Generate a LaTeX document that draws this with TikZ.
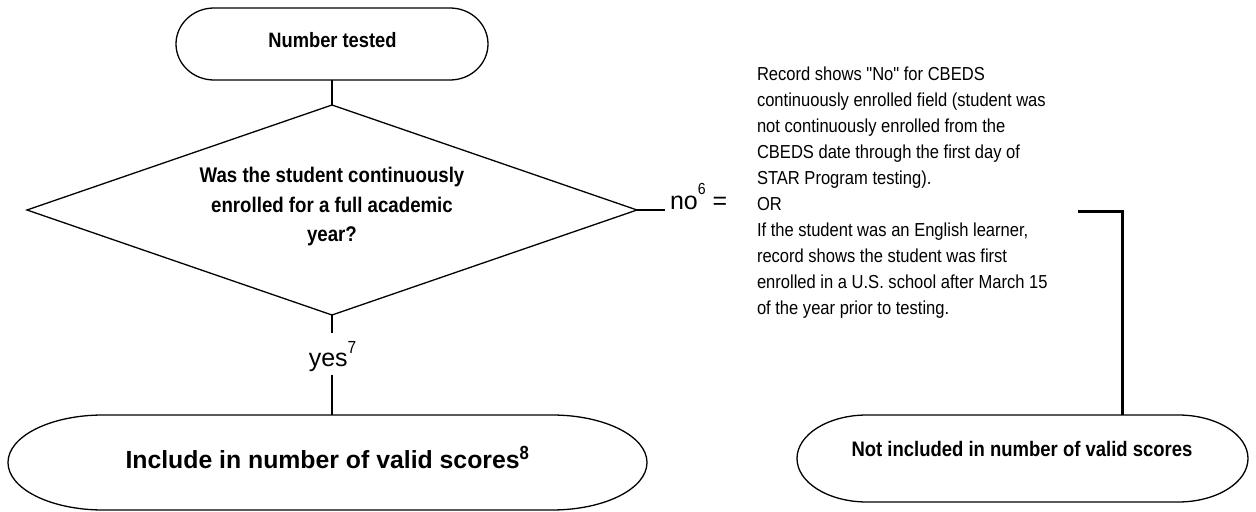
\documentclass[tikz,border=0pt]{standalone}
\usepackage{fontspec}
\setmainfont{Liberation Sans}
\newfontfamily\nfont[FakeStretch=0.88]{Liberation Sans}
\usetikzlibrary{shapes.geometric,calc}
\newcommand\mystadium[3]{%
  \draw[outl] ($(#1.north west)+(#2,0)$) -- ($(#1.north east)+(-#2,0)$)
    arc[start angle=90,end angle=-90,x radius=#2bp,y radius=#3bp]
    -- ($(#1.south west)+(#2,0)$)
    arc[start angle=270,end angle=90,x radius=#2bp,y radius=#3bp] -- cycle;}
\begin{document}
\begin{tikzpicture}[x=1bp,y=-1bp,
  outl/.style={line width=1.3bp},
  conn/.style={line width=2.8bp},
  box/.style={rectangle,draw=none,inner sep=0,outer sep=0},
  lbl/.style={inner sep=0,outer sep=0}]
\useasboundingbox (0,0) rectangle (1256,512);

% shapes
\node[box,minimum width=312bp,minimum height=72bp] (tested) at (332,44) {};
\mystadium{tested}{38}{36}
\node[diamond,draw,outl,minimum width=610bp,minimum height=210bp,inner sep=0,outer sep=0] (dia) at (332,210) {};
\node[box,minimum width=639bp,minimum height=95bp] (incl) at (327.5,462.5) {};
\mystadium{incl}{95}{47.5}
\node[box,minimum width=451bp,minimum height=87bp] (notinc) at (1022.5,458.5) {};
\mystadium{notinc}{70}{43.5}

% texts
\node[lbl,anchor=base,font=\nfont\bfseries\fontsize{20.8bp}{20.8bp}\selectfont] (testedtxt) at (332.5,47.7) {Number tested};
\node[lbl,anchor=north,align=center,font=\nfont\bfseries\fontsize{21.2bp}{29.5bp}\selectfont] (diatxt) at (332,167.3) {Was the student continuously\\enrolled for a full academic\\year?};
\node[lbl,anchor=base west,font=\bfseries\fontsize{24.8bp}{24.8bp}\selectfont] (incltxt) at (125.5,468.3) {Include in number of valid scores\raisebox{9bp}{\nfont\fontsize{19bp}{19bp}\selectfont 8}};
\node[lbl,anchor=base,font=\nfont\bfseries\fontsize{21bp}{21bp}\selectfont] (notinctxt) at (1022,456) {Not included in number of valid scores};
\node[inner xsep=5bp,inner ysep=0,outer sep=0,anchor=base west,font=\fontsize{25bp}{25bp}\selectfont] (no) at (665,209.3) {no\raisebox{14.5bp}{\nfont\fontsize{16bp}{16bp}\selectfont 6} =};
\node[lbl,anchor=base,text height=33.4bp,text depth=8.3bp,font=\fontsize{25bp}{25bp}\selectfont] (yes) at (332.5,366.7) {yes\raisebox{13.5bp}{\nfont\fontsize{17.5bp}{17.5bp}\selectfont 7}};
\node[lbl,anchor=north west,align=left,font=\nfont\fontsize{18.8bp}{26bp}\selectfont] (note) at (757,67) {Record shows "No" for CBEDS\\continuously enrolled field (student was\\not continuously enrolled from the\\CBEDS date through the first day of\\STAR Program testing).\\OR\\If the student was an English learner,\\record shows the student was first\\enrolled in a U.S. school after March 15\\of the year prior to testing.};

% connectors
\draw[conn] (tested.south) -- (dia.north);
\draw[conn] (dia.south) -- (dia.south |- yes.north);
\draw[conn] (dia.south |- yes.south) -- (dia.south |- incl.north);
\draw[conn] (dia.east) -- (dia.east -| no.west);
\coordinate (nstart) at (1078,211.5);
\coordinate (ncorner) at (1122.5,211.5);
\draw[conn] (nstart) -- (ncorner) -- (ncorner |- notinc.north);
\end{tikzpicture}
\end{document}
